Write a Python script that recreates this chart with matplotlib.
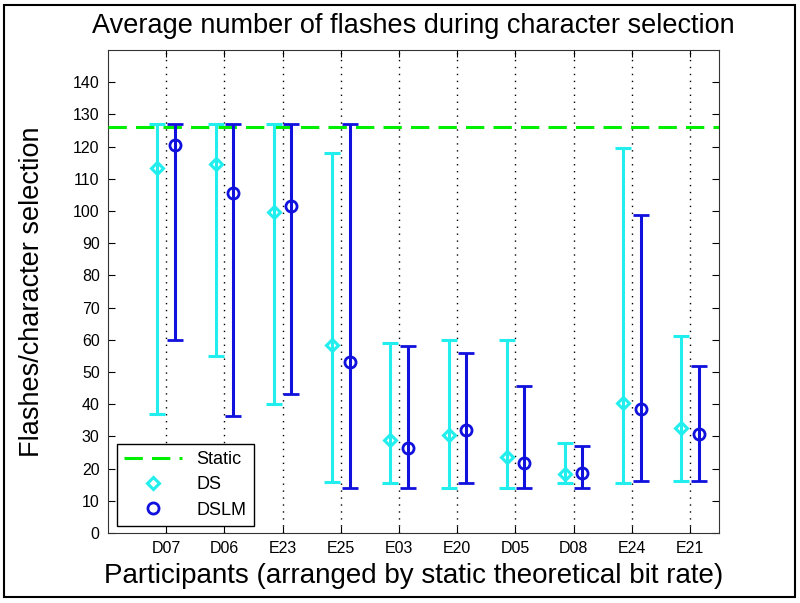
import matplotlib
matplotlib.use("Agg")
import matplotlib.pyplot as plt
from matplotlib.lines import Line2D
import numpy as np

participants = ["D07", "D06", "E23", "E25", "E03", "E20", "D05", "D08", "E24", "E21"]

ds_mean = [113.5, 114.5, 99.7, 58.5, 29.0, 30.3, 23.5, 18.3, 40.5, 32.6]
ds_low = [37, 55, 40, 16, 15.4, 14, 14, 15.4, 15.4, 16.2]
ds_high = [127, 127, 127, 118, 59, 60, 60, 28, 119.6, 61.2]

dslm_mean = [120.5, 105.7, 101.5, 53, 26.5, 32.1, 21.6, 18.5, 38.6, 30.9]
dslm_low = [60, 36.2, 43.3, 14, 14, 15.4, 14, 14, 16.2, 16.2]
dslm_high = [127, 127, 127, 127, 58.2, 56, 45.8, 27, 98.7, 52]

static_value = 126

plt.rcParams['font.family'] = ['Liberation Sans', 'DejaVu Sans']

fig = plt.figure(figsize=(8, 6.03), dpi=100)
ax = fig.add_axes([0.135, 0.116, 0.764, 0.801])

x = np.arange(1, len(participants) + 1)
off = 0.15

ds_mean = np.array(ds_mean)
dslm_mean = np.array(dslm_mean)
ds_err = [ds_mean - np.array(ds_low), np.array(ds_high) - ds_mean]
dslm_err = [dslm_mean - np.array(dslm_low), np.array(dslm_high) - dslm_mean]

green = "#00ee00"
cyan = "#22eeee"
blue = "#1111dd"

ax.axhline(static_value, color=green, lw=2.2, ls=(0, (6, 3)), zorder=3)

ax.errorbar(x - off, ds_mean, yerr=ds_err, fmt="D", color=cyan, ecolor=cyan,
            elinewidth=2.2, capsize=6, capthick=2.2, ms=6.5, mfc="none", mew=2.2,
            zorder=4)
ax.errorbar(x + off, dslm_mean, yerr=dslm_err, fmt="o", color=blue, ecolor=blue,
            elinewidth=2.2, capsize=6, capthick=2.2, ms=8, mfc="none", mew=2,
            zorder=4)

ax.set_xlim(0, 10.5)
ax.set_ylim(0, 150)
ax.set_xticks(x)
ax.set_xticklabels(participants)
ax.set_yticks(np.arange(0, 141, 10))
ax.tick_params(direction="in", top=True, right=True, labelsize=11.5, length=5, pad=6)
ax.grid(axis="x", color="black", ls=(0, (1, 4)), lw=1)
for s in ax.spines.values():
    s.set_color("#333333")

ax.set_title("Average number of flashes during character selection", fontsize=19.5, pad=12)
ax.set_xlabel("Participants (arranged by static theoretical bit rate)", fontsize=20, labelpad=5)
ax.set_ylabel("Flashes/character selection", fontsize=19.5, labelpad=20)

handles = [
    Line2D([], [], color=green, lw=2.2, ls=(0, (6, 3))),
    Line2D([], [], ls="none", marker="D", ms=6.5, mfc="none", mec=cyan, mew=2.2),
    Line2D([], [], ls="none", marker="o", ms=8, mfc="none", mec=blue, mew=2),
]
leg = ax.legend(handles, ["Static", "DS", "DSLM"], loc="lower left", fontsize=13,
                fancybox=False, edgecolor="black", framealpha=1,
                bbox_to_anchor=(0.015, 0.015), borderaxespad=0, handlelength=3.2,
                labelspacing=0.45)
leg.get_frame().set_linewidth(1)

fig.patches.append(plt.Rectangle((0.005, 0.01), 0.989, 0.982, transform=fig.transFigure,
                                 fill=False, edgecolor="black", lw=1.5))

fig.savefig("out.png", dpi=100)
